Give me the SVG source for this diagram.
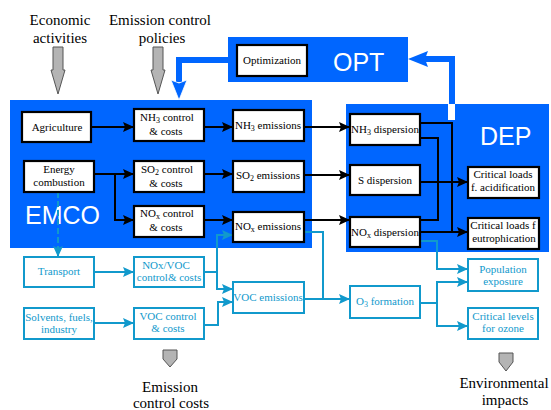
<svg xmlns="http://www.w3.org/2000/svg" width="551" height="410" viewBox="0 0 551 410">
<defs>
<style>
.lbl{font-family:"Liberation Serif","Times New Roman",serif;font-size:15px;fill:#000;text-anchor:middle}
.bx{fill:#fff;stroke:#000;stroke-width:2.2}
.cbx{fill:#fff;stroke:#1199cc;stroke-width:2}
.t{font-family:"Liberation Serif","Times New Roman",serif;font-size:11px;fill:#000;text-anchor:middle}
.ct{font-family:"Liberation Serif","Times New Roman",serif;font-size:11px;fill:#1199cc;text-anchor:middle}
.big{font-family:"Liberation Sans",Arial,sans-serif;font-size:25px;fill:#fff}
.panel{fill:#0066ff}
.bl{fill:none;stroke:#000;stroke-width:2}
.cl{fill:none;stroke:#1199cc;stroke-width:2}
.fb{fill:none;stroke:#0066ff;stroke-width:6;stroke-linejoin:miter}
.gray{fill:#b4b4b4;stroke:#555;stroke-width:1}
.sub{font-size:8px}
</style>
<marker id="ab" markerUnits="userSpaceOnUse" markerWidth="12" markerHeight="10" refX="11" refY="5" orient="auto">
<path d="M0,0 L11,5 L0,10 L2,5 z" fill="#000"/>
</marker>
<marker id="ac" markerUnits="userSpaceOnUse" markerWidth="12" markerHeight="10" refX="11" refY="5" orient="auto">
<path d="M0,0 L11,5 L0,10 L2,5 z" fill="#1199cc"/>
</marker>
</defs>

<!-- panels -->
<rect class="panel" x="10" y="100" width="302" height="148"/>
<rect class="panel" x="346" y="104" width="203" height="148"/>
<rect class="panel" x="228" y="37" width="180" height="45"/>
<rect x="448" y="104" width="7" height="16" fill="#fff"/>
<text class="big" x="25" y="224">EMCO</text>
<text class="big" x="480" y="145">DEP</text>
<text class="big" x="333" y="71">OPT</text>

<!-- outside labels and gray arrows -->
<g id="labels">
<text class="lbl" x="60" y="25">Economic</text>
<text class="lbl" x="60" y="43">activities</text>
<text class="lbl" x="160" y="25">Emission control</text>
<text class="lbl" x="162" y="43">policies</text>
<text class="lbl" x="170" y="392">Emission</text>
<text class="lbl" x="171" y="408">control costs</text>
<text class="lbl" x="504" y="388">Environmental</text>
<text class="lbl" x="505" y="405">impacts</text>
<polygon class="gray" points="53,47 63,47 63,70 65,70 58,94 51,70 53,70"/>
<polygon class="gray" points="153,47 163,47 163,70 165,70 158,94 151,70 153,70"/>
<polygon class="gray" points="163,350 177,350 177,359 170,367 163,359"/>
<polygon class="gray" points="499,353 513,353 513,362 506,371 499,362"/>
</g>

<!-- connectors -->
<g id="connectors">
<path class="fb" d="M228,60 H179 V82"/>
<polygon points="171,80 179,83 187,80 179,100" fill="#0066ff" stroke="#fff" stroke-width="0.8"/>
<path class="fb" d="M452,104 V59 H424"/>
<polygon points="408,59 428,51 425,59 428,67" fill="#0066ff"/>

<path class="bl" d="M91,127 H134" marker-end="url(#ab)"/>
<path class="bl" d="M204,127 H233" marker-end="url(#ab)"/>
<path class="bl" d="M94,174 H134" marker-end="url(#ab)"/>
<path class="bl" d="M115,174 V220 H134" marker-end="url(#ab)"/>
<path class="bl" d="M204,174 H233" marker-end="url(#ab)"/>
<path class="bl" d="M204,220 H233" marker-end="url(#ab)"/>
<path class="bl" d="M304,127 H350" marker-end="url(#ab)"/>
<path class="bl" d="M304,175 H350" marker-end="url(#ab)"/>
<path class="bl" d="M304,220 H350" marker-end="url(#ab)"/>
<path class="bl" d="M420,123 H452 V232"/>
<path class="bl" d="M420,138 H438 V220 H420"/>
<path class="bl" d="M420,182 H468" marker-end="url(#ab)"/>
<path class="bl" d="M420,232 H468" marker-end="url(#ab)"/>

<path class="cl" d="M58,192 V257" stroke-dasharray="6,3" marker-end="url(#ac)"/>
<path class="cl" d="M94,272 H134" marker-end="url(#ac)"/>
<path class="cl" d="M94,323 H134" marker-end="url(#ac)"/>
<path class="cl" d="M204,272 H217"/>
<path class="cl" d="M217,235 V289"/>
<path class="cl" d="M216,235 H233" marker-end="url(#ac)"/>
<path class="cl" d="M216,289 H233" marker-end="url(#ac)"/>
<path class="cl" d="M204,325 H218 V302 H233" marker-end="url(#ac)"/>
<path class="cl" d="M304,232 H323 V299"/>
<path class="cl" d="M304,299 H350" marker-end="url(#ac)"/>
<path class="cl" d="M420,241 H437 V269 H468" marker-end="url(#ac)"/>
<path class="cl" d="M420,303 H437"/>
<path class="cl" d="M437,282 V326"/>
<path class="cl" d="M436,282 H468" marker-end="url(#ac)"/>
<path class="cl" d="M436,326 H468" marker-end="url(#ac)"/>
</g>

<!-- nodes -->
<g id="optimization"><rect class="bx" x="237" y="45" width="70" height="31" stroke-width="2.6"/><text class="t" x="272" y="64">Optimization</text></g>
<g id="agriculture"><rect class="bx" x="22" y="112" width="69" height="30"/><text class="t" x="57" y="131">Agriculture</text></g>
<g id="energy"><rect class="bx" x="24" y="161" width="70" height="31"/><text class="t" x="59" y="173">Energy</text><text class="t" x="59" y="186">combustion</text></g>
<g id="nh3-control"><rect class="bx" x="134" y="109" width="70" height="32"/><text class="t" x="167" y="121">NH<tspan class="sub" dy="2">3</tspan><tspan dy="-2"> control</tspan></text><text class="t" x="166" y="135">&amp; costs</text></g>
<g id="so2-control"><rect class="bx" x="134" y="161" width="70" height="31"/><text class="t" x="167" y="173">SO<tspan class="sub" dy="2">2</tspan><tspan dy="-2"> control</tspan></text><text class="t" x="166" y="187">&amp; costs</text></g>
<g id="nox-control"><rect class="bx" x="134" y="206" width="70" height="31"/><text class="t" x="167" y="217">NO<tspan class="sub" dy="2">x</tspan><tspan dy="-2"> control</tspan></text><text class="t" x="166" y="231">&amp; costs</text></g>
<g id="nh3-emissions"><rect class="bx" x="233" y="110" width="71" height="31"/><text class="t" x="268" y="129">NH<tspan class="sub" dy="2">3</tspan><tspan dy="-2"> emissions</tspan></text></g>
<g id="so2-emissions"><rect class="bx" x="233" y="161" width="71" height="31"/><text class="t" x="268" y="179">SO<tspan class="sub" dy="2">2</tspan><tspan dy="-2"> emissions</tspan></text></g>
<g id="nox-emissions"><rect class="bx" x="233" y="212" width="71" height="30"/><text class="t" x="268" y="230">NO<tspan class="sub" dy="2">x</tspan><tspan dy="-2"> emissions</tspan></text></g>
<g id="nh3-dispersion"><rect class="bx" x="350" y="114" width="70" height="31"/><text class="t" x="385" y="133">NH<tspan class="sub" dy="2">3</tspan><tspan dy="-2"> dispersion</tspan></text></g>
<g id="s-dispersion"><rect class="bx" x="350" y="165" width="70" height="30"/><text class="t" x="385" y="184">S dispersion</text></g>
<g id="nox-dispersion"><rect class="bx" x="350" y="217" width="70" height="30"/><text class="t" x="385" y="236">NO<tspan class="sub" dy="2">x</tspan><tspan dy="-2"> dispersion</tspan></text></g>
<g id="cl-acid"><rect class="bx" x="468" y="167" width="71" height="31"/><text class="t" x="503" y="178">Critical loads</text><text class="t" x="503" y="191">f. acidification</text></g>
<g id="cl-eutro"><rect class="bx" x="468" y="218" width="71" height="31"/><text class="t" x="503" y="229">Critical loads f</text><text class="t" x="504" y="242">eutrophication</text></g>

<g id="transport"><rect class="cbx" x="24" y="257" width="70" height="30"/><text class="ct" x="59" y="275">Transport</text></g>
<g id="solvents"><rect class="cbx" x="24" y="308" width="70" height="31"/><text class="ct" x="59" y="321">Solvents, fuels,</text><text class="ct" x="59" y="333">industry</text></g>
<g id="noxvoc-control"><rect class="cbx" x="134" y="257" width="70" height="30"/><text class="ct" x="166" y="269">NOx/VOC</text><text class="ct" x="169" y="281">control&amp; costs</text></g>
<g id="voc-control"><rect class="cbx" x="134" y="308" width="70" height="31"/><text class="ct" x="168" y="320">VOC control</text><text class="ct" x="168" y="332">&amp; costs</text></g>
<g id="voc-emissions"><rect class="cbx" x="233" y="282" width="71" height="31"/><text class="ct" x="268" y="301">VOC emissions</text></g>
<g id="o3-formation"><rect class="cbx" x="350" y="286" width="70" height="32"/><text class="ct" x="385" y="305">O<tspan class="sub" dy="2">3</tspan><tspan dy="-2"> formation</tspan></text></g>
<g id="population"><rect class="cbx" x="468" y="259" width="70" height="32"/><text class="ct" x="503" y="273">Population</text><text class="ct" x="503" y="285">exposure</text></g>
<g id="critical-levels"><rect class="cbx" x="468" y="308" width="70" height="31"/><text class="ct" x="503" y="320">Critical levels</text><text class="ct" x="503" y="332">for ozone</text></g>
</svg>
